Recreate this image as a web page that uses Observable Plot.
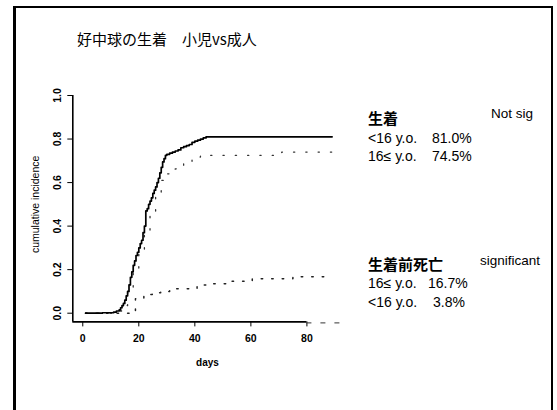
<!DOCTYPE html>
<html><head><meta charset="utf-8">
<script src="https://cdn.jsdelivr.net/npm/d3@7"></script>
<script src="https://cdn.jsdelivr.net/npm/@observablehq/plot@0.6"></script>
<style>
html,body{margin:0;padding:0;background:#fff;overflow:hidden}
#wrap{position:relative;width:557px;height:410px;overflow:hidden;background:#fff}
#chart{position:absolute;left:0;top:0}
#border{position:absolute;left:13px;top:6px;width:535px;height:420px;border-left:3px solid #000;border-top:2px solid #000;border-right:2px solid #000}
.t{position:absolute;white-space:pre;color:#000;font-family:"Liberation Sans",Arial,sans-serif;line-height:1}
.cjk{font-family:"Noto Sans CJK JP","Noto Sans CJK SC",sans-serif}
</style></head><body>
<div id="wrap">
  <div id="chart"></div>
  <div id="border"></div>
  <div class="t cjk" style="left:77px;top:31px;font-size:15px">好中球の生着　小児vs成人</div>
  <div class="t cjk" style="left:368px;top:110px;font-size:15px;font-weight:bold">生着</div>
  <div class="t" style="left:491px;top:107px;font-size:13.5px">Not sig</div>
  <div class="t" style="left:368px;top:131px;font-size:14px">&lt;16 y.o.</div>
  <div class="t" style="left:432px;top:131px;font-size:14px">81.0%</div>
  <div class="t" style="left:368px;top:148.5px;font-size:14px">16≤ y.o.</div>
  <div class="t" style="left:432px;top:148.5px;font-size:14px">74.5%</div>
  <div class="t cjk" style="left:368px;top:256px;font-size:15px;font-weight:bold">生着前死亡</div>
  <div class="t" style="left:480px;top:253.5px;font-size:13.5px">significant</div>
  <div class="t" style="left:368px;top:276px;font-size:14px">16≤ y.o.</div>
  <div class="t" style="left:428px;top:276px;font-size:14px">16.7%</div>
  <div class="t" style="left:368px;top:294.5px;font-size:14px">&lt;16 y.o.</div>
  <div class="t" style="left:433px;top:294.5px;font-size:14px">3.8%</div>
</div>
<script>
// Axis ticks
const xTicks = [0, 20, 40, 60, 80];
const yTicks = [0, 0.2, 0.4, 0.6, 0.8, 1.0];

// Engraftment, <16 y.o. (solid)
const engChildDays = [1, 7, 11, 12, 13, 13.5, 14, 14.5, 15, 15.5, 16, 16.5, 17, 17.5, 18, 18.5, 19, 19.5, 20, 20.5, 21, 21.5, 22, 22.5, 23, 23.5, 24, 24.5, 25, 25.5, 26, 26.5, 27, 27.5, 28, 28.5, 29, 29.5, 30, 31, 32, 33, 34, 35, 36, 37, 38, 39, 40, 41, 42, 43, 44, 89];
const engChildCI   = [0, 0.002, 0.005, 0.01, 0.015, 0.025, 0.035, 0.045, 0.06, 0.08, 0.10, 0.13, 0.165, 0.19, 0.22, 0.24, 0.265, 0.28, 0.30, 0.32, 0.335, 0.37, 0.40, 0.47, 0.48, 0.50, 0.515, 0.53, 0.55, 0.565, 0.58, 0.60, 0.62, 0.645, 0.67, 0.695, 0.71, 0.725, 0.73, 0.735, 0.74, 0.745, 0.75, 0.76, 0.765, 0.77, 0.775, 0.785, 0.79, 0.795, 0.80, 0.805, 0.81, 0.81];

// Engraftment, 16≤ y.o. (dotted)
const engAdultDays = [1, 12, 14, 16, 18, 20, 22, 24, 26, 28, 30, 32, 33, 34.5, 36, 39, 42, 71, 89];
const engAdultCI   = [0, 0.01, 0.035, 0.10, 0.20, 0.28, 0.37, 0.46, 0.54, 0.61, 0.64, 0.655, 0.663, 0.68, 0.694, 0.717, 0.725, 0.74, 0.74];

// Death before engraftment, 16≤ y.o. (dotted)
const deathAdultDays = [1, 17, 18.8, 21.8, 24.8, 27.8, 31, 40.8, 44.4, 51.8, 60.5, 75, 89];
const deathAdultCI   = [0, 0.005, 0.066, 0.086, 0.094, 0.10, 0.112, 0.13, 0.135, 0.147, 0.158, 0.167, 0.167];

const toRows = (days, ci) => days.map((d, i) => ({day: d, ci: ci[i]}));
const engChild = toRows(engChildDays, engChildCI);
const engAdult = toRows(engAdultDays, engAdultCI);
const deathAdult = toRows(deathAdultDays, deathAdultCI);

const xDomain = [-3.56, 92.56];
const yDomain = [-0.04, 1.04];

const plot = Plot.plot({
  width: 557,
  height: 410,
  marginLeft: 72.3,
  marginRight: 215.4,
  marginTop: 86.3,
  marginBottom: 88.6,
  style: {fontFamily: "'Liberation Sans', Arial, sans-serif", fontSize: "10.5px", fontWeight: "bold", color: "#000", background: "transparent"},
  x: {domain: xDomain, ticks: xTicks, tickSize: 5, tickPadding: 8, tickFormat: d => String(d), label: null},
  y: {domain: yDomain, ticks: yTicks, tickSize: 5, tickFormat: () => "", label: null},
  marks: [
    // axis lines (R style)
    Plot.ruleY([yDomain[0]], {x1: xDomain[0], x2: xTicks[xTicks.length - 1], stroke: "#000", strokeWidth: 1.6}),
    Plot.ruleY([yDomain[0]], {x1: xTicks[xTicks.length - 1], x2: xDomain[1], stroke: "#333", strokeWidth: 1, strokeDasharray: "5,9", dy: 1}),
    Plot.ruleX([xDomain[0]], {y1: yDomain[0], y2: yTicks[yTicks.length - 1], stroke: "#000", strokeWidth: 1.6}),
    Plot.text(yTicks, {x: xDomain[0], y: d => d, text: d => d.toFixed(1), rotate: -90, dx: -15.5, textAnchor: "middle", lineAnchor: "middle", fontSize: 10.5, fontWeight: "bold"}),
    Plot.text(["cumulative incidence"], {frameAnchor: "left", rotate: -90, dx: -37, textAnchor: "middle", lineAnchor: "middle", fontSize: 10.5, fontWeight: "normal"}),
    Plot.text(["days"], {frameAnchor: "bottom", dy: 41, lineAnchor: "middle", fontSize: 10, fontWeight: "bold"}),
    // curves
    Plot.line(engAdult, {x: "day", y: "ci", curve: "step-after", stroke: "#333", strokeWidth: 1.3, strokeDasharray: "1.3,11"}),
    Plot.line(deathAdult, {x: "day", y: "ci", curve: "step-after", stroke: "#222", strokeWidth: 1.5, strokeDasharray: "1.5,9"}),
    Plot.line(engChild, {x: "day", y: "ci", curve: "step-after", stroke: "#000", strokeWidth: 1.7})
  ]
});
document.getElementById("chart").appendChild(plot);
</script>
</body></html>
